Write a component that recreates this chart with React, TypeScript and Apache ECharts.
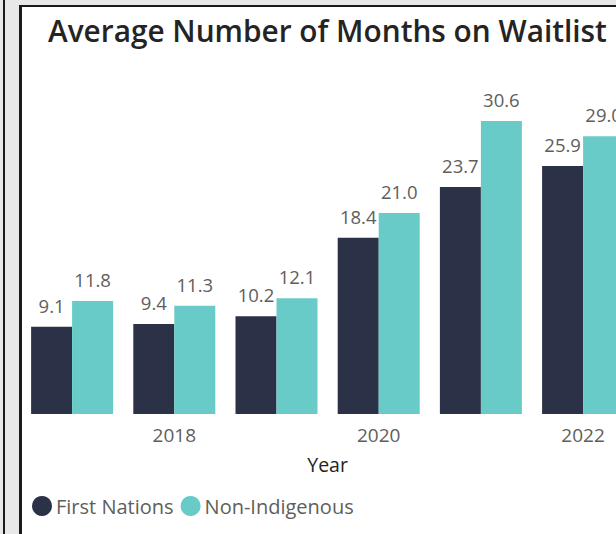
import React, { useEffect, useRef } from "react";
import * as echarts from "echarts";

const years = ["2017", "2018", "2019", "2020", "2021", "2022"];
const firstNations = [9.1, 9.4, 10.2, 18.4, 23.7, 25.9];
const nonIndigenous = [11.8, 11.3, 12.1, 21.0, 30.6, 29.0];
const seriesNames = ["First Nations", "Non-Indigenous"];
const titleText = "Average Number of Months on Waitlist";
const axisName = "Year";

const FONT = "'Open Sans', 'Noto Sans', sans-serif";

export default function App() {
  const ref = useRef<HTMLDivElement>(null);

  useEffect(() => {
    if (!ref.current) return;
    const chart = echarts.init(ref.current, undefined, { renderer: "svg" });
    chart.setOption({
      animation: false,
      backgroundColor: "transparent",
      textStyle: { fontFamily: FONT },
      title: {
        text: titleText,
        left: 43,
        top: 10,
        textStyle: { fontFamily: FONT, fontSize: 29.8, fontWeight: 600, color: "#252423" },
      },
      legend: {
        data: seriesNames,
        left: 27,
        top: 491,
        icon: "circle",
        itemWidth: 20,
        itemHeight: 20,
        itemGap: 7,
        textStyle: { fontFamily: FONT, fontSize: 20, color: "#605e5c", padding: [0, 0, 0, -1] },
      },
      grid: { left: 21, width: 613.2, top: 69.3, bottom: 120, containLabel: false },
      xAxis: {
        type: "category",
        data: years,
        name: axisName,
        nameLocation: "middle",
        nameGap: 40,
        nameTextStyle: { fontFamily: FONT, fontSize: 19.5, color: "#252423" },
        axisLine: { show: false },
        axisTick: { show: false },
        axisLabel: {
          interval: (idx: number) => idx % 2 === 1,
          margin: 11,
          fontFamily: FONT,
          fontSize: 19,
          color: "#605e5c",
        },
      },
      yAxis: {
        type: "value",
        min: 0,
        max: 36,
        show: false,
        splitLine: { show: false },
      },
      series: [
        {
          name: seriesNames[0],
          type: "bar",
          data: firstNations,
          barWidth: 41,
          barGap: "0%",
          itemStyle: { color: "#2b3248" },
          label: {
            show: true,
            position: "top",
            distance: 12,
            formatter: (p: any) => Number(p.value).toFixed(1),
            fontFamily: FONT,
            fontSize: 18.5,
            color: "#605e5c",
          },
        },
        {
          name: seriesNames[1],
          type: "bar",
          data: nonIndigenous,
          barWidth: 41,
          barGap: "0%",
          itemStyle: { color: "#68cbc7" },
          label: {
            show: true,
            position: "top",
            distance: 12,
            formatter: (p: any) => Number(p.value).toFixed(1),
            fontFamily: FONT,
            fontSize: 18.5,
            color: "#605e5c",
          },
        },
      ],
    });
    return () => chart.dispose();
  }, []);

  return (
    <div
      style={{
        position: "fixed",
        left: 0,
        top: 0,
        width: 616,
        height: 534,
        overflow: "hidden",
        background: "#e8e8e8",
      }}
    >
      <div style={{ position: "absolute", left: 3, top: 0, width: 2, height: 534, background: "#1a1a1a" }} />
      <div
        style={{
          position: "absolute",
          left: 19,
          top: 5,
          width: 700,
          height: 700,
          background: "#ffffff",
          borderLeft: "3px solid #1a1a1a",
          borderTop: "2px solid #1a1a1a",
          boxSizing: "border-box",
        }}
      />
      <div ref={ref} style={{ position: "absolute", left: 0, top: 0, width: 640, height: 534 }} />
    </div>
  );
}
